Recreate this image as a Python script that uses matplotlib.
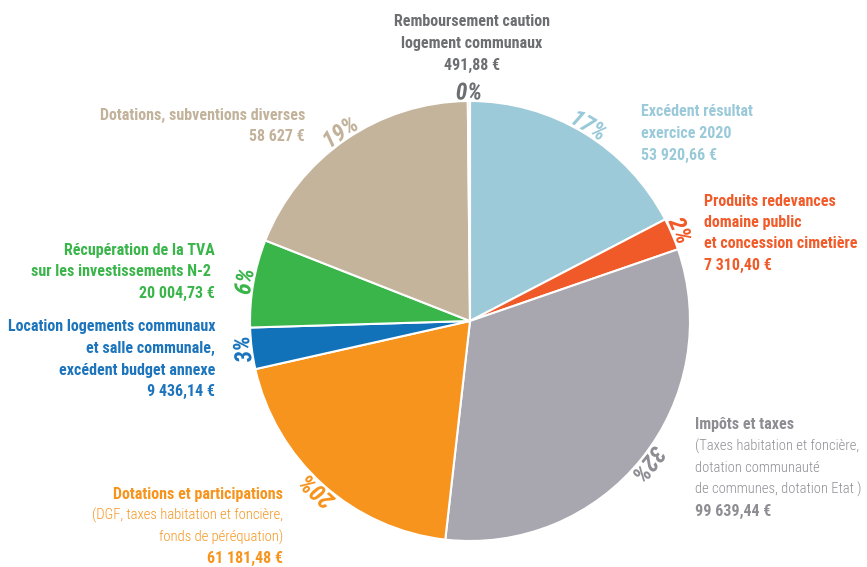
import matplotlib
matplotlib.use('Agg')
import matplotlib.pyplot as plt
import matplotlib.patheffects as pe
from matplotlib import font_manager
import numpy as np

# pick a narrow font if one is there
names = {f.name for f in font_manager.fontManager.ttflist}
fam = 'DejaVu Sans'
for f in ['Roboto Condensed', 'Liberation Sans Narrow', 'Open Sans Condensed', 'Roboto', 'DejaVu Sans']:
    if f in names:
        fam = f
        break
plt.rcParams['font.family'] = [fam, 'DejaVu Sans']
if fam == 'DejaVu Sans':
    plt.rcParams['font.stretch'] = 'condensed'

categories = ['Excédent résultat exercice 2020', 'Produits redevances',
              'Impôts et taxes', 'Dotations et participations',
              'Location logements', 'Récupération de la TVA',
              'Dotations, subventions diverses', 'Remboursement caution']
values = [53920.66, 7310.40, 99639.44, 61181.48, 9436.14, 20004.73, 58627.00, 491.88]
pct_labels = ['17%', '2%', '32%', '20%', '3%', '6%', '19%', '0%']
colors = ['#9DCAD8', '#F05A28', '#A8A6AE', '#F7941D', '#1172BA', '#3AB54A', '#C4B49C', '#6D6E71']
text_colors = ['#9ACAD9', '#F15A29', '#8E8D93', '#F7941D', '#1C75BC', '#39B54A', '#C2B29A', '#6D6E71']

label_lines = [
    [('Excédent résultat', 'bold'), ('exercice 2020', 'bold'), ('53 920,66 €', 'bold')],
    [('Produits redevances', 'bold'), ('domaine public', 'bold'),
     ('et concession cimetière', 'bold'), ('7 310,40 €', 'bold')],
    [('Impôts et taxes', 'bold'), ('(Taxes habitation et foncière,', 'light'),
     ('dotation communauté', 'light'), ('de communes, dotation Etat )', 'light'),
     ('99 639,44 €', 'bold')],
    [('Dotations et participations', 'bold'), ('(DGF, taxes habitation et foncière,', 'light'),
     ('fonds de péréquation)', 'light'), ('61 181,48 €', 'bold')],
    [('Location logements communaux', 'bold'), ('et salle communale,', 'bold'),
     ('excédent budget annexe', 'bold'), ('9 436,14 €', 'bold')],
    [('Récupération de la TVA', 'bold'), ('sur les investissements N-2 ', 'bold'),
     ('20 004,73 €', 'bold')],
    [('Dotations, subventions diverses', 'bold'), ('58 627 €', 'bold')],
    [('Remboursement caution', 'bold'), ('logement communaux', 'bold'), ('491,88 €', 'bold')],
]
# anchor x, first line y (pixels from top), alignment
label_pos = [(641, 112, 'left'), (704, 201, 'left'), (695, 425, 'left'), (283, 494, 'right'),
             (215, 327, 'right'), (215, 250, 'right'), (305, 115, 'right'), (472, 22, 'center')]

W, H = 867, 567
cx, cy, R = 470, H - 321, 220

fig = plt.figure(figsize=(8.67, 5.67), dpi=100)
ax = fig.add_axes([0, 0, 1, 1])
wedges, _ = ax.pie(values, colors=colors, startangle=90, counterclock=False,
                   center=(cx, cy), radius=R,
                   wedgeprops=dict(edgecolor='white', linewidth=1.5))
ax.set_xlim(0, W)
ax.set_ylim(0, H)
ax.set_aspect('equal')
ax.axis('off')

for w, lab, c in zip(wedges, pct_labels, text_colors):
    mid = (w.theta1 + w.theta2) / 2
    x = cx + 228 * np.cos(np.radians(mid))
    y = cy + 228 * np.sin(np.radians(mid))
    ax.text(x, y, lab, rotation=mid - 90, rotation_mode='anchor', ha='center', va='center',
            fontsize=17, fontweight='heavy', fontstyle='italic', color=c,
            path_effects=[pe.withStroke(linewidth=2.5, foreground='white')])

for lines, (x, y0, ha), c in zip(label_lines, label_pos, text_colors):
    for i, (txt, wt) in enumerate(lines):
        ax.text(x, H - (y0 + i * 21.5), txt, ha=ha, va='center',
                fontsize=11.5 if wt == 'bold' else 10.5, fontweight=wt, color=c)

fig.savefig('out.png', dpi=100)
